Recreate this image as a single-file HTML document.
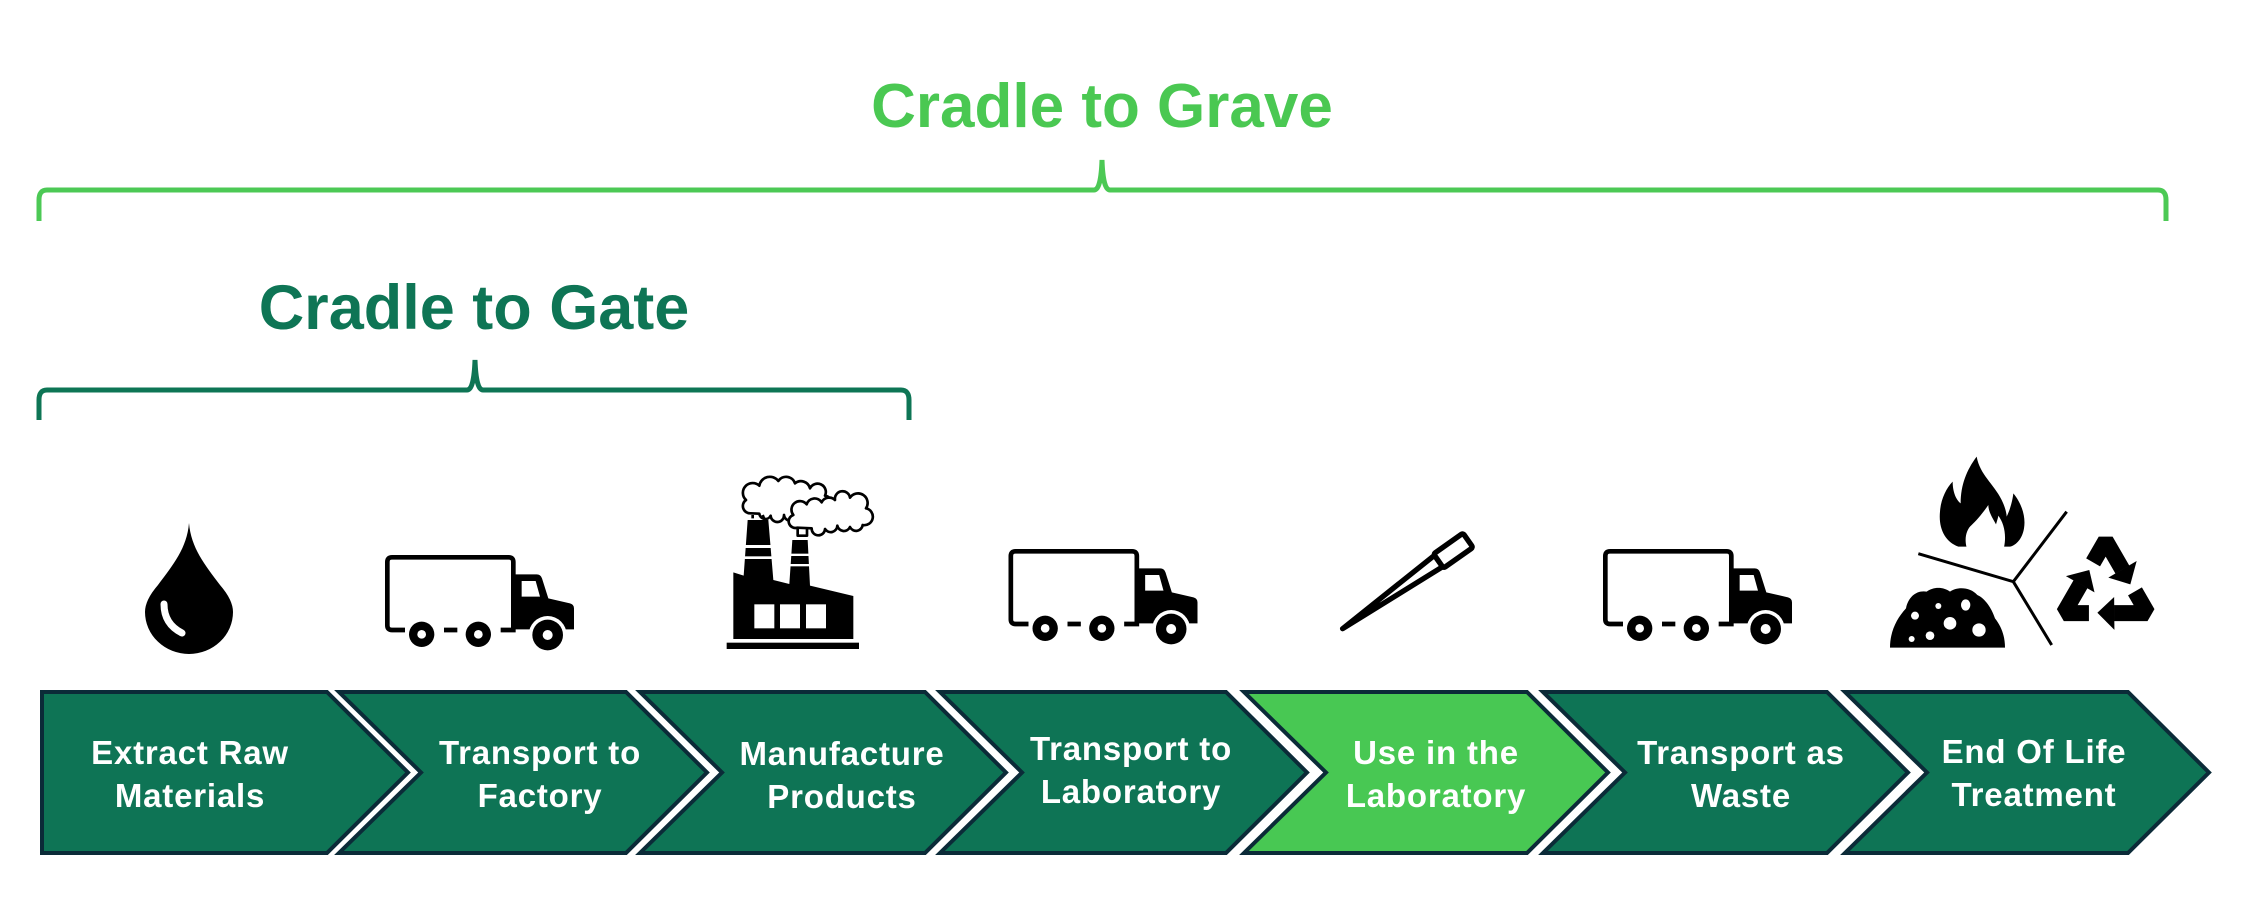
<!DOCTYPE html>
<html>
<head>
<meta charset="utf-8">
<style>
  html, body { margin: 0; padding: 0; background: #ffffff; }
  body { width: 2260px; height: 918px; overflow: hidden; }
  svg { display: block; }
  .t { font-family: "Liberation Sans", Arial, sans-serif; font-weight: bold; }
</style>
</head>
<body>
<svg width="2260" height="918" viewBox="0 0 2260 918" xmlns="http://www.w3.org/2000/svg">
  <rect width="2260" height="918" fill="#ffffff"/>

  <!-- Titles -->
  <text class="t" x="1102" y="127" text-anchor="middle" font-size="62" fill="#4AC852">Cradle to Grave</text>
  <text class="t" x="474" y="329" text-anchor="middle" font-size="63" fill="#0E7555">Cradle to Gate</text>

  <!-- Brackets -->
  <path d="M39,221 L39,200 Q39,190 47,190 L1094,190 Q1101,190 1102,160 Q1103,190 1110,190 L2158,190 Q2166,190 2166,200 L2166,221"
        fill="none" stroke="#4CC955" stroke-width="5"/>
  <path d="M39,420 L39,400 Q39,390 47,390 L467,390 Q474,390 475,360 Q476,390 483,390 L901,390 Q909,390 909,400 L909,420"
        fill="none" stroke="#0E7555" stroke-width="5"/>

  <!-- Drop icon -->
  <path d="M189,523 C191,548 205,565 220,585 Q233,600 233,612 A44,42 0 0 1 145,612 Q145,600 158,585 C173,565 187,548 189,523 Z" fill="#000"/>
  <path d="M164,604 Q164,624 182,633" fill="none" stroke="#fff" stroke-width="7" stroke-linecap="round"/>

  <!-- Truck 1 -->
  <g transform="translate(370,540) scale(0.33333)">
    <path d="M105,270 L66,270 Q52,270 52,256 L52,66 Q52,52 66,52 L416,52 Q430,52 430,66 L430,270 L392,270 M222,270 L262,270" fill="none" stroke="#000" stroke-width="14"/>
    <path d="M428,103 L500,103 Q512,103 516,115 L535,175 L600,190 Q612,193 612,205 L612,268 L428,268 Z" fill="#000"/>
    <path d="M455,123 L497,123 L510,170 L455,170 Z" fill="#fff"/>
    <circle cx="533" cy="285" r="57" fill="#fff"/>
    <circle cx="155" cy="283" r="38" fill="#000"/><circle cx="155" cy="283" r="13" fill="#fff"/>
    <circle cx="325" cy="283" r="38" fill="#000"/><circle cx="325" cy="283" r="13" fill="#fff"/>
    <circle cx="533" cy="285" r="46" fill="#000"/><circle cx="533" cy="285" r="15" fill="#fff"/>
  </g>

  <!-- Truck 2 -->
  <g transform="translate(993.5,534) scale(0.33333)">
    <path d="M105,270 L66,270 Q52,270 52,256 L52,66 Q52,52 66,52 L416,52 Q430,52 430,66 L430,270 L392,270 M222,270 L262,270" fill="none" stroke="#000" stroke-width="14"/>
    <path d="M428,103 L500,103 Q512,103 516,115 L535,175 L600,190 Q612,193 612,205 L612,268 L428,268 Z" fill="#000"/>
    <path d="M455,123 L497,123 L510,170 L455,170 Z" fill="#fff"/>
    <circle cx="533" cy="285" r="57" fill="#fff"/>
    <circle cx="155" cy="283" r="38" fill="#000"/><circle cx="155" cy="283" r="13" fill="#fff"/>
    <circle cx="325" cy="283" r="38" fill="#000"/><circle cx="325" cy="283" r="13" fill="#fff"/>
    <circle cx="533" cy="285" r="46" fill="#000"/><circle cx="533" cy="285" r="15" fill="#fff"/>
  </g>

  <!-- Truck 3 -->
  <g transform="translate(1588,534) scale(0.33333)">
    <path d="M105,270 L66,270 Q52,270 52,256 L52,66 Q52,52 66,52 L416,52 Q430,52 430,66 L430,270 L392,270 M222,270 L262,270" fill="none" stroke="#000" stroke-width="14"/>
    <path d="M428,103 L500,103 Q512,103 516,115 L535,175 L600,190 Q612,193 612,205 L612,268 L428,268 Z" fill="#000"/>
    <path d="M455,123 L497,123 L510,170 L455,170 Z" fill="#fff"/>
    <circle cx="533" cy="285" r="57" fill="#fff"/>
    <circle cx="155" cy="283" r="38" fill="#000"/><circle cx="155" cy="283" r="13" fill="#fff"/>
    <circle cx="325" cy="283" r="38" fill="#000"/><circle cx="325" cy="283" r="13" fill="#fff"/>
    <circle cx="533" cy="285" r="46" fill="#000"/><circle cx="533" cy="285" r="15" fill="#fff"/>
  </g>

  <!-- Factory -->
  <g transform="translate(710,465) scale(0.33333)">
    <rect x="50" y="533" width="397" height="19" fill="#000"/>
    <path d="M70,522 L70,322 L101,332 L113,165 L175,165 L190,345 L238,357 L247,225 L293,225 L300,362 L430,393 L430,522 Z" fill="#000"/>
    <rect x="90" y="240" width="110" height="9" fill="#fff"/>
    <rect x="90" y="274" width="110" height="8" fill="#fff"/>
    <rect x="230" y="266" width="80" height="7" fill="#fff"/>
    <rect x="230" y="297" width="80" height="7" fill="#fff"/>
    <rect x="133" y="418" width="60" height="72" fill="#fff"/>
    <rect x="210" y="418" width="60" height="72" fill="#fff"/>
    <rect x="288" y="418" width="60" height="72" fill="#fff"/>
    <g fill="#fff" stroke="#000" stroke-width="8" stroke-linejoin="round">
      <path d="M122,145 A22,22 0 0 1 108,105 A28,28 0 0 1 148,62 A32,32 0 0 1 205,48 A28,28 0 0 1 255,55 A28,28 0 0 1 300,70 A25,25 0 0 1 345,92 A22,22 0 0 1 338,138 A20,20 0 0 1 300,142 A20,20 0 0 1 262,145 A20,20 0 0 1 222,150 A20,20 0 0 1 182,152 A18,18 0 0 1 148,146 Z"/>
      <path d="M128,150 L128,160 M158,150 L162,160" fill="none"/>
      <path d="M262,188 A18,18 0 0 1 250,150 A25,25 0 0 1 290,118 A25,25 0 0 1 335,112 A25,25 0 0 1 375,105 A22,22 0 0 1 420,98 A25,25 0 0 1 468,130 A22,22 0 0 1 458,180 A20,20 0 0 1 420,186 A20,20 0 0 1 382,182 A20,20 0 0 1 345,192 A20,20 0 0 1 305,190 Z"/>
      <path d="M263,185 L263,212 L291,212 L291,188" fill="none"/>
    </g>
  </g>

  <!-- Pipette -->
  <g transform="translate(1320,520) scale(0.33333)">
    <g transform="translate(68,326) rotate(-35.2)">
      <path d="M0,0 L352,-21 L352,21 Z" fill="#fff" stroke="#000" stroke-width="16" stroke-linejoin="round"/>
      <rect x="352" y="-26" width="108" height="52" rx="6" fill="#fff" stroke="#000" stroke-width="16"/>
    </g>
  </g>

  <!-- End of life icon -->
  <g transform="translate(1870,445) scale(0.33333)">
    <path d="M265,305 C225,290 205,250 210,200 C212,165 228,130 248,110 C248,140 258,165 272,175 C272,120 290,75 320,35 C330,90 370,115 395,165 C405,185 410,205 410,215 C420,195 428,165 430,145 C455,175 468,215 462,250 C457,280 440,300 420,305 Z" fill="#000"/>
    <path d="M290,307 C282,280 290,252 305,240 C318,228 338,205 355,180 C355,200 368,220 378,238 C382,225 385,215 385,212 C402,235 410,270 402,307 Z" fill="#fff"/>
    <path d="M145,326 L430,410 L590,200 M430,410 L545,600" fill="none" stroke="#000" stroke-width="9"/>
    <path d="M60,608 C60,560 80,520 108,490 C115,455 140,435 170,440 C190,425 220,425 240,440 C260,425 300,425 322,450 C345,460 365,490 375,520 C395,545 405,575 405,608 Z" fill="#000"/>
    <g fill="#fff">
      <circle cx="135" cy="512" r="12"/>
      <circle cx="205" cy="483" r="9"/>
      <ellipse cx="287" cy="480" rx="14" ry="17"/>
      <circle cx="240" cy="535" r="19"/>
      <circle cx="327" cy="555" r="20"/>
      <circle cx="180" cy="572" r="13"/>
      <circle cx="125" cy="582" r="9"/>
    </g>
    <g transform="translate(707,432)">
      <g>
        <path d="M-37.7,-79.75 L0,-145 L50.2,-58" fill="none" stroke="#000" stroke-width="48" stroke-linejoin="bevel"/>
        <path d="M93,-84 L74,-14 L8,-34 Z" fill="#000"/>
      </g>
      <g transform="rotate(120)">
        <path d="M-37.7,-79.75 L0,-145 L50.2,-58" fill="none" stroke="#000" stroke-width="48" stroke-linejoin="bevel"/>
        <path d="M93,-84 L74,-14 L8,-34 Z" fill="#000"/>
      </g>
      <g transform="rotate(240)">
        <path d="M-37.7,-79.75 L0,-145 L50.2,-58" fill="none" stroke="#000" stroke-width="48" stroke-linejoin="bevel"/>
        <path d="M93,-84 L74,-14 L8,-34 Z" fill="#000"/>
      </g>
    </g>
  </g>

  <!-- Chevrons -->
  <g stroke="#0B2B38" stroke-width="4" stroke-linejoin="miter">
    <path d="M42,692 L327,692 L408,772.5 L327,853 L42,853 Z" fill="#0E7455"/>
    <path d="M339,692 L626,692 L707,772.5 L626,853 L339,853 L421,772.5 Z" fill="#0E7455"/>
    <path d="M640,692 L925,692 L1006,772.5 L925,853 L640,853 L722,772.5 Z" fill="#0E7455"/>
    <path d="M940,692 L1226,692 L1307,772.5 L1226,853 L940,853 L1022,772.5 Z" fill="#0E7455"/>
    <path d="M1244,692 L1527,692 L1608,772.5 L1527,853 L1244,853 L1326,772.5 Z" fill="#48C853"/>
    <path d="M1543,692 L1827,692 L1908,772.5 L1827,853 L1543,853 L1625,772.5 Z" fill="#0E7455"/>
    <path d="M1845,692 L2128,692 L2209,772.5 L2128,853 L1845,853 L1927,772.5 Z" fill="#0E7455"/>
  </g>

  <!-- Chevron labels -->
  <g class="t" font-size="33" fill="#ffffff" text-anchor="middle" letter-spacing="0.8">
    <text x="190" y="764">Extract Raw</text>
    <text x="190" y="807">Materials</text>

    <text x="540" y="764">Transport to</text>
    <text x="540" y="807">Factory</text>

    <text x="842" y="765">Manufacture</text>
    <text x="842" y="808">Products</text>

    <text x="1131" y="760">Transport to</text>
    <text x="1131" y="803">Laboratory</text>

    <text x="1436" y="764">Use in the</text>
    <text x="1436" y="807">Laboratory</text>

    <text x="1741" y="764">Transport as</text>
    <text x="1741" y="807">Waste</text>

    <text x="2034" y="763">End Of Life</text>
    <text x="2034" y="806">Treatment</text>
  </g>
</svg>
</body>
</html>
